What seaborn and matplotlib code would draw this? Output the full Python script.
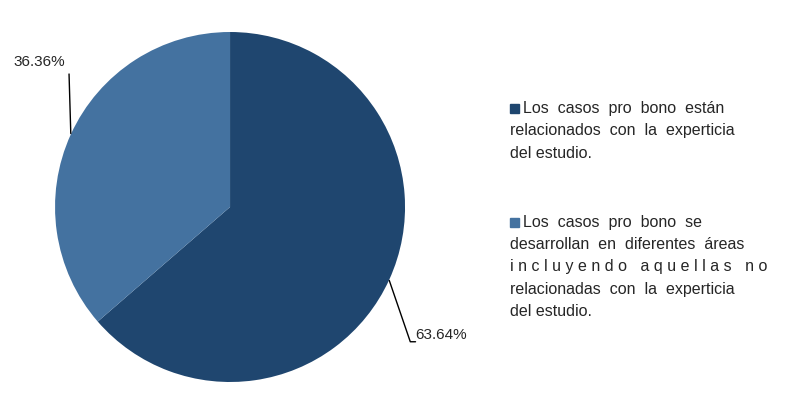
import matplotlib
matplotlib.use("Agg")
import matplotlib.pyplot as plt
import seaborn as sns

sns.set_theme(style="white")
plt.rcParams['font.family'] = ['Liberation Sans', 'DejaVu Sans']

categories = ["Los casos pro bono están relacionados con la experticia del estudio.",
              "Los casos pro bono se desarrollan en diferentes áreas incluyendo aquellas no relacionadas con la experticia del estudio."]
values = [63.64, 36.36]
labels = ["63.64%", "36.36%"]
colors = ["#1F466F", "#4472A0"]
legend_lines = [["Los  casos  pro  bono  están", "relacionados  con  la  experticia", "del estudio."],
                ["Los  casos  pro  bono  se", "desarrollan  en  diferentes  áreas", "i n c l u y e n d o   a q u e l l a s   n o", "relacionadas  con  la  experticia", "del estudio."]]

fig = plt.figure(figsize=(8, 4), dpi=100)
ax = fig.add_axes([0.0688, 0.045, 0.4375, 0.875])
ax.pie(values, colors=colors, startangle=90, counterclock=False, radius=1,
       wedgeprops=dict(linewidth=0))
ax.set_xlim(-1, 1); ax.set_ylim(-1, 1)
ax.set_aspect('auto')

# leader lines and labels
ax.plot([-0.91, -0.92], [0.42, 0.76], color="black", lw=1, clip_on=False)
ax.text(-1.09, 0.83, labels[1], ha="center", va="center", fontsize=11)
ax.plot([0.91, 1.03, 1.06], [-0.42, -0.77, -0.77], color="black", lw=1, clip_on=False)
ax.text(1.06, -0.73, labels[0], ha="left", va="center", fontsize=11)

# legend
starts = [108, 222]
for lines, y0, c in zip(legend_lines, starts, colors):
    fig.patches.append(plt.Rectangle((510/800, 1 - (y0 + 5)/400), 9/800, 9/400,
                                     transform=fig.transFigure, color=c))
    for i, t in enumerate(lines):
        x = 523 if i == 0 else 510
        fig.text(x/800, 1 - (y0 + i*22.5)/400, t, fontsize=11.5, va="center", ha="left")

fig.savefig("out.png", dpi=100, facecolor="white")
